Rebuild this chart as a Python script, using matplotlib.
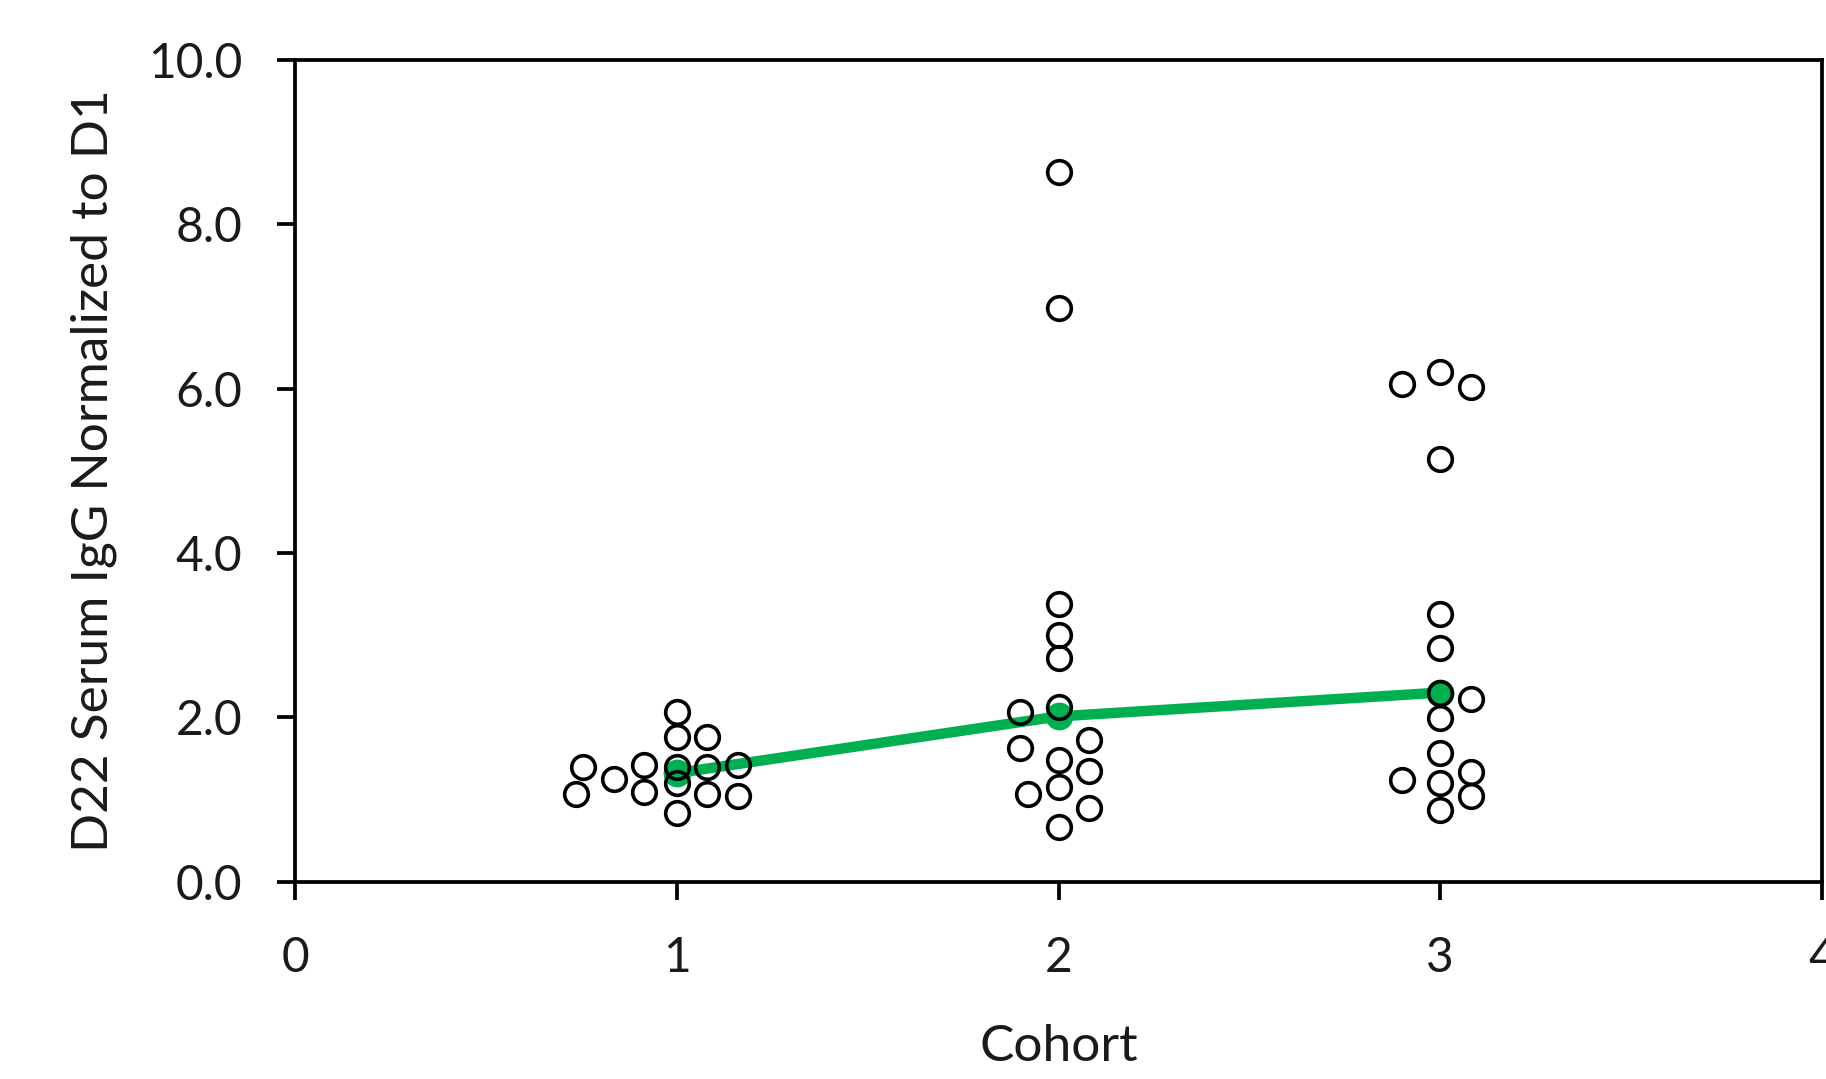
import matplotlib
matplotlib.use("Agg")
import matplotlib.pyplot as plt

plt.rcParams['font.family'] = ['Lato', 'DejaVu Sans']

# Individual data points (x = cohort position incl. swarm offset, y = value)
c1_x = [1.00, 1.00, 1.08, 0.755, 0.915, 1.00, 1.08, 1.16, 0.835, 1.00, 0.735, 0.915, 1.08, 1.16, 1.00]
c1_y = [2.06, 1.76, 1.76, 1.39, 1.42, 1.39, 1.39, 1.42, 1.25, 1.20, 1.06, 1.09, 1.06, 1.04, 0.84]

c2_x = [2.00, 2.00, 2.00, 2.00, 2.00, 2.00, 1.90, 2.08, 1.90, 2.00, 2.08, 2.00, 1.92, 2.08, 2.00]
c2_y = [8.64, 6.98, 3.38, 3.00, 2.72, 2.12, 2.06, 1.72, 1.63, 1.48, 1.35, 1.15, 1.07, 0.89, 0.66]

c3_x = [2.90, 3.00, 3.08, 3.00, 3.00, 3.00, 3.00, 3.08, 3.00, 3.00, 2.90, 3.00, 3.08, 3.08, 3.00]
c3_y = [6.06, 6.20, 6.02, 5.14, 3.26, 2.84, 2.29, 2.22, 1.99, 1.56, 1.23, 1.20, 1.33, 1.04, 0.87]

# Summary line (green)
summary_x = [1, 2, 3]
summary_y = [1.32, 2.01, 2.30]

x_ticks = [0, 1, 2, 3, 4]
y_ticks = [0.0, 2.0, 4.0, 6.0, 8.0, 10.0]

fig = plt.figure(figsize=(18.26, 10.79), dpi=100)
ax = fig.add_axes([0.1616, 0.183, 0.9978 - 0.1616, 0.9444 - 0.183])

green = '#00B050'
ax.plot(summary_x, summary_y, color=green, lw=7.5, solid_capstyle='butt', zorder=2,
        marker='o', markersize=19, markerfacecolor=green, markeredgecolor=green)

for xs, ys in [(c1_x, c1_y), (c2_x, c2_y), (c3_x, c3_y)]:
    ax.plot(xs, ys, linestyle='none', marker='o', markersize=17,
            markerfacecolor='none', markeredgecolor='black', markeredgewidth=2.6, zorder=3)

ax.set_xlim(0, 4)
ax.set_ylim(0, 10)
ax.set_xticks(x_ticks)
ax.set_xticklabels([str(t) for t in x_ticks])
ax.set_yticks(y_ticks)
ax.set_yticklabels([f"{t:.1f}" for t in y_ticks])

for s in ax.spines.values():
    s.set_linewidth(2.7)
    s.set_color('black')

ax.tick_params(axis='both', direction='out', length=13, width=2.7, labelsize=34.5,
               color='black', labelcolor='#1a1a1a')
ax.tick_params(axis='y', pad=25)
ax.tick_params(axis='x', pad=26)

ax.set_xlabel('Cohort', fontsize=37, labelpad=32, color='#1a1a1a')
ax.set_ylabel('D22 Serum IgG Normalized to D1', fontsize=37, labelpad=22, color='#1a1a1a')

fig.savefig('out.png', dpi=100)
